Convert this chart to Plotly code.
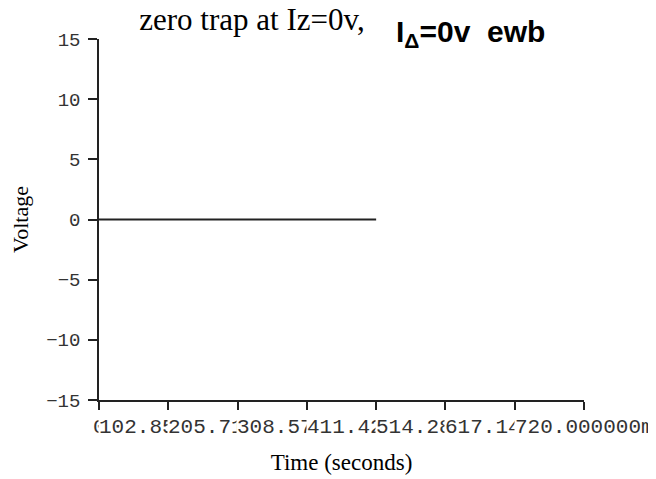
import plotly.graph_objects as go

# ---- data ----
time_s = [0.0, 0.102857, 0.205714, 0.308571, 0.411429]
voltage = [0.0, 0.0, 0.0, 0.0, 0.0]

x_tick_vals = [0.0, 0.102857143, 0.205714286, 0.308571429, 0.411428571,
               0.514285714, 0.617142857, 0.72]
x_tick_labels = ["0", "102.857143m", "205.714286m", "308.571429m",
                 "411.428571m", "514.285714m", "617.142857m", "720.000000m"]
y_tick_vals = [-15, -10, -5, 0, 5, 10, 15]

title_text = "zero trap at Iz=0v,"
note_text = "I<sub>Δ</sub>=0v  ewb"
x_title = "Time (seconds)"
y_title = "Voltage"

# the page body adds an 8px offset, so the figure is shifted to compensate
OFF = 8
W, H = 656 - OFF, 479 - OFF
L, T = 99 - OFF, 39 - OFF
PW, PH = 485, 361
R, B = W - L - PW, H - T - PH

fig = go.Figure()
fig.add_trace(go.Scatter(x=time_s, y=voltage, mode="lines",
                         line=dict(color="#222222", width=2),
                         showlegend=False, hoverinfo="skip"))

mono = "Liberation Mono"
serif = "Liberation Serif"

# x tick labels drawn as opaque boxes so later labels cover earlier ones
annotations = []
for v, t in zip(x_tick_vals, x_tick_labels):
    annotations.append(dict(x=v, xref="x", y=0, yref="paper",
                            yanchor="middle", xanchor="center", yshift=-27,
                            text=t, showarrow=False, bgcolor="white",
                            borderpad=0,
                            font=dict(family=mono, size=21, color="#333333")))

annotations.append(dict(x=(394 - 99) / PW, xref="paper", xanchor="left",
                        y=1 + (39 - 34) / PH, yref="paper", yanchor="middle",
                        text=note_text, showarrow=False,
                        font=dict(family="Liberation Sans", size=30, color="black",
                                  weight="bold")))

fig.update_layout(
    width=W, height=H,
    margin=dict(l=L, r=R, t=T, b=B, pad=0, autoexpand=False),
    paper_bgcolor="white", plot_bgcolor="white",
    title=dict(text=title_text, xref="container", x=244 / W, xanchor="center",
               yref="container", y=1 - 11 / H, yanchor="middle",
               font=dict(family=serif, size=31, color="black")),
    xaxis=dict(range=[0, 0.72], tickvals=x_tick_vals, showticklabels=False,
               ticks="outside", ticklen=8, tickwidth=1.5, tickcolor="#222222",
               showline=True, linecolor="#222222", linewidth=1.5,
               showgrid=False, zeroline=False, automargin=False,
               title=dict(text=x_title, standoff=45,
                          font=dict(family=serif, size=23, color="black"))),
    yaxis=dict(range=[-15, 15], tickvals=y_tick_vals,
               ticks="outside", ticklen=9, tickwidth=1.5, tickcolor="#222222",
               showline=True, linecolor="#222222", linewidth=1.5,
               showgrid=False, zeroline=False, ticklabelstandoff=4,
               automargin=False,
               tickfont=dict(family=mono, size=19, color="#333333"),
               title=dict(text=y_title, standoff=15,
                          font=dict(family=serif, size=22, color="black"))),
    annotations=annotations,
)

fig.write_html("out.html")
